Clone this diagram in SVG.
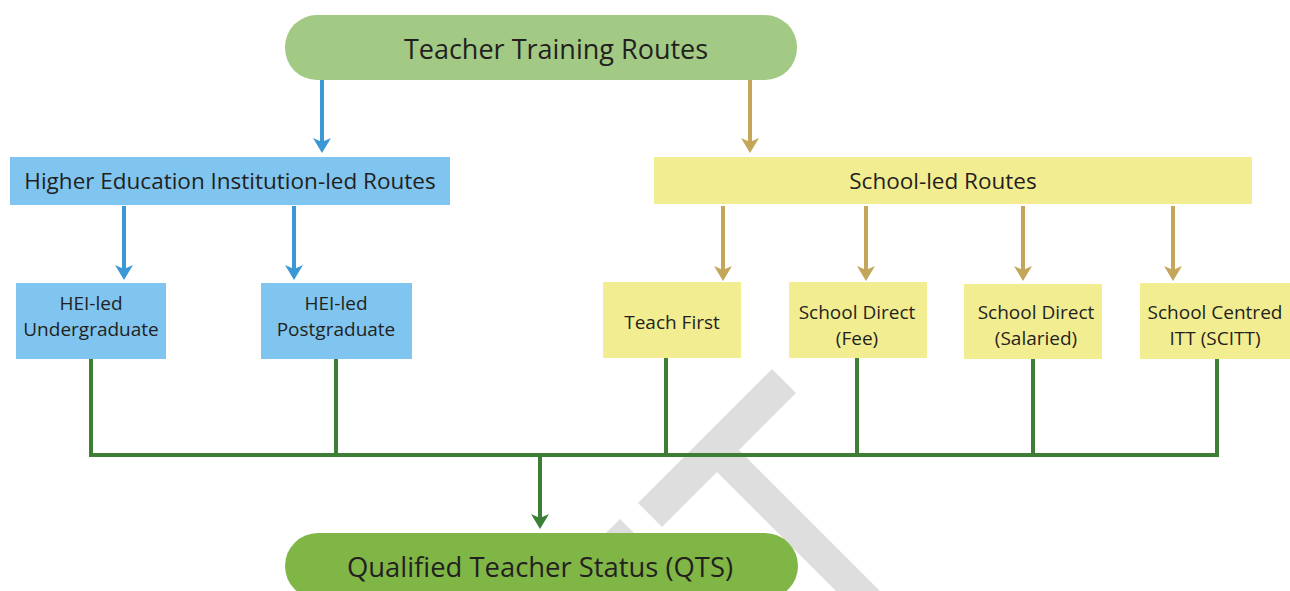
<svg xmlns="http://www.w3.org/2000/svg" width="1290" height="591" viewBox="0 0 1290 591">
  <style>
    text { font-family: "Open Sans", "Liberation Sans", sans-serif; fill: #231f20; text-anchor: middle; }
    .t-top { font-size: 27px; }
    .t-qts { font-size: 27.4px; }
    .t-mid { font-size: 22.5px; }
    .t-sm { font-size: 19px; }
    .blue { fill: #80c5ef; }
    .yellow { fill: #f3ed91; }
    .c-blue { stroke: #3a98d6; stroke-width: 4; fill: none; marker-end: url(#ah-blue); }
    .c-tan { stroke: #c4a65a; stroke-width: 4; fill: none; marker-end: url(#ah-tan); }
    .c-green { stroke: #3b7e34; stroke-width: 4; fill: none; }
    .c-green-arrow { stroke: #3b7e34; stroke-width: 4; fill: none; marker-end: url(#ah-green); }
    .wm { fill: #dedede; }
  </style>
  <defs>
    <marker id="ah-blue" viewBox="0 -9 15 18" refX="7" refY="0" markerWidth="15" markerHeight="18" markerUnits="userSpaceOnUse" orient="auto">
      <path d="M0,-9 L15,0 L0,9 L4,0 z" fill="#3a98d6"/>
    </marker>
    <marker id="ah-tan" viewBox="0 -9 15 18" refX="7" refY="0" markerWidth="15" markerHeight="18" markerUnits="userSpaceOnUse" orient="auto">
      <path d="M0,-9 L15,0 L0,9 L4,0 z" fill="#c4a65a"/>
    </marker>
    <marker id="ah-green" viewBox="0 -9 15 18" refX="7" refY="0" markerWidth="15" markerHeight="18" markerUnits="userSpaceOnUse" orient="auto">
      <path d="M0,-9 L15,0 L0,9 L4,0 z" fill="#3b7e34"/>
    </marker>
  </defs>

  <rect x="0" y="0" width="1290" height="591" fill="#ffffff"/>

  <g id="watermark">
    <polygon class="wm" points="638,503 772,369 796,393 662,527"/>
    <polygon class="wm" points="728,439 911,622 889,644 706,461"/>
    <polygon class="wm" points="620,519 644,543 584,603 560,579"/>
  </g>

  <g id="connectors">
    <line class="c-blue" x1="322" y1="80" x2="322" y2="145"/>
    <line class="c-tan" x1="750" y1="80" x2="750" y2="145"/>
    <line class="c-blue" x1="124" y1="206" x2="124" y2="272"/>
    <line class="c-blue" x1="294" y1="206" x2="294" y2="272"/>
    <line class="c-tan" x1="723" y1="206" x2="723" y2="273"/>
    <line class="c-tan" x1="866" y1="206" x2="866" y2="273"/>
    <line class="c-tan" x1="1023" y1="206" x2="1023" y2="273"/>
    <line class="c-tan" x1="1173" y1="206" x2="1173" y2="273"/>
    <path class="c-green" d="M91,359 V455 H1217 V359"/>
    <line class="c-green" x1="336" y1="359" x2="336" y2="455"/>
    <line class="c-green" x1="666" y1="358" x2="666" y2="455"/>
    <line class="c-green" x1="857" y1="358" x2="857" y2="455"/>
    <line class="c-green" x1="1033" y1="359" x2="1033" y2="455"/>
    <line class="c-green-arrow" x1="540" y1="455" x2="540" y2="521"/>
  </g>

  <g id="node-top">
    <rect x="285" y="15" width="512" height="65" rx="32" ry="32" fill="#a2ca85"/>
    <text class="t-top" x="556" y="59">Teacher Training Routes</text>
  </g>

  <g id="node-hei">
    <rect class="blue" x="10" y="157" width="440" height="48"/>
    <text class="t-mid" x="230" y="189">Higher Education Institution-led Routes</text>
  </g>

  <g id="node-school">
    <rect class="yellow" x="654" y="157" width="598" height="47"/>
    <text class="t-mid" x="943" y="189">School-led Routes</text>
  </g>

  <g id="node-hei-ug">
    <rect class="blue" x="16" y="283" width="150" height="76"/>
    <text class="t-sm" x="91" y="310">HEI-led</text>
    <text class="t-sm" x="91" y="336">Undergraduate</text>
  </g>

  <g id="node-hei-pg">
    <rect class="blue" x="261" y="283" width="151" height="76"/>
    <text class="t-sm" x="336" y="310">HEI-led</text>
    <text class="t-sm" x="336" y="336">Postgraduate</text>
  </g>

  <g id="node-teach-first">
    <rect class="yellow" x="603" y="282" width="138" height="76"/>
    <text class="t-sm" x="672" y="329">Teach First</text>
  </g>

  <g id="node-sd-fee">
    <rect class="yellow" x="789" y="282" width="138" height="76"/>
    <text class="t-sm" x="857" y="319">School Direct</text>
    <text class="t-sm" x="857" y="345">(Fee)</text>
  </g>

  <g id="node-sd-salaried">
    <rect class="yellow" x="964" y="284" width="138" height="75"/>
    <text class="t-sm" x="1036" y="319">School Direct</text>
    <text class="t-sm" x="1036" y="345">(Salaried)</text>
  </g>

  <g id="node-scitt">
    <rect class="yellow" x="1140" y="283" width="150" height="76"/>
    <text class="t-sm" x="1215" y="319">School Centred</text>
    <text class="t-sm" x="1215" y="345">ITT (SCITT)</text>
  </g>

  <g id="node-qts">
    <rect x="285" y="533" width="513" height="66" rx="33" ry="33" fill="#80b646"/>
    <text class="t-qts" x="540" y="577">Qualified Teacher Status (QTS)</text>
  </g>
</svg>
